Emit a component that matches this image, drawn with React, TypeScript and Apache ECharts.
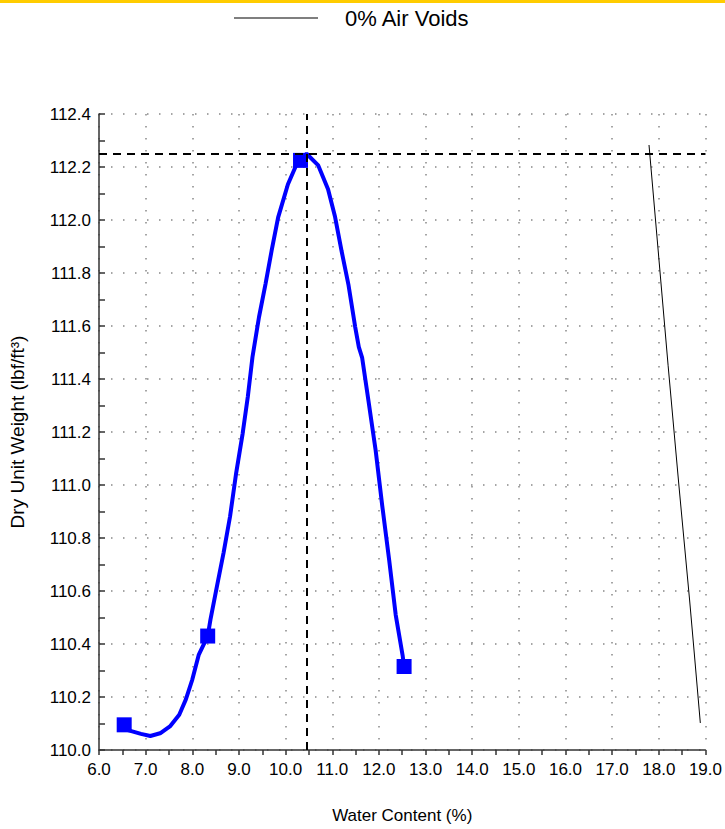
import React, { useEffect, useRef } from "react";
import * as echarts from "echarts";

// Test points (water content %, dry unit weight lbf/ft3)
const testWater = [6.54, 8.33, 10.32, 12.54];
const testDensity = [110.095, 110.43, 112.225, 110.315];

// Fitted compaction curve
const curveWater = [
  6.54, 6.6, 6.9, 7.1, 7.31, 7.52, 7.72, 7.86, 8.0, 8.14, 8.33, 8.39, 8.53, 8.67,
  8.81, 8.94, 9.08, 9.19, 9.29, 9.43, 9.57, 9.7, 9.84, 10.05, 10.26, 10.45, 10.7,
  10.91, 11.06, 11.2, 11.35, 11.49, 11.57, 11.64, 11.78, 11.93, 12.07, 12.22,
  12.36, 12.51, 12.54,
];
const curveDensity = [
  110.095, 110.076, 110.061, 110.053, 110.063, 110.089, 110.133, 110.19, 110.266,
  110.36, 110.43, 110.493, 110.619, 110.744, 110.882, 111.045, 111.195, 111.333,
  111.483, 111.634, 111.759, 111.884, 112.01, 112.135, 112.22, 112.25, 112.206,
  112.116, 112.012, 111.883, 111.753, 111.598, 111.52, 111.481, 111.313, 111.131,
  110.924, 110.717, 110.51, 110.355, 110.315,
];

// Zero air voids line
const zavWater = [17.79, 17.98, 18.2, 18.43, 18.66, 18.76, 18.89];
const zavDensity = [112.283, 111.898, 111.45, 111.0, 110.566, 110.366, 110.102];

// Optimum
const optimumWater = 10.45;
const maxDryDensity = 112.25;

const xTitle = "Water Content (%)";
const yTitle = "Dry Unit Weight (lbf/ft³)";
const zavName = "0% Air Voids";

const FONT = "'Liberation Sans', Arial, sans-serif";

export default function App() {
  const ref = useRef<HTMLDivElement>(null);
  useEffect(() => {
    if (!ref.current) return;
    const chart = echarts.init(ref.current, undefined, { renderer: "svg" });
    const zip = (a: number[], b: number[]) => a.map((v, i) => [v, b[i]]);
    const gridLine = { show: true, lineStyle: { color: "#888", width: 1.5, type: [1.5, 10.5] as any } };
    chart.setOption({
      animation: false,
      textStyle: { fontFamily: FONT },
      graphic: [
        { type: "rect", shape: { x: 0, y: 0, width: 725, height: 3 }, style: { fill: "#FFCC00" }, silent: true },
      ],
      legend: {
        data: [zavName],
        left: 229,
        top: 2,
        itemWidth: 84,
        itemHeight: 1,
        icon: "rect",
        textStyle: { fontSize: 22, color: "#000", fontFamily: FONT, padding: [0, 0, 0, 22] },
      },
      grid: { left: 98, right: 16, top: 114, bottom: 79, containLabel: false },
      xAxis: {
        type: "value",
        min: 6,
        max: 19,
        interval: 1,
        name: xTitle,
        nameLocation: "middle",
        nameGap: 57,
        nameTextStyle: { fontSize: 17, color: "#000", fontFamily: FONT },
        axisLine: { show: true, lineStyle: { color: "#333", width: 1.5 } },
        axisTick: { show: true, inside: false, length: 5, lineStyle: { color: "#333", width: 1.5 } },
        minorTick: { show: true, splitNumber: 2, length: 5, lineStyle: { color: "#333", width: 1.5 } },
        axisLabel: { fontSize: 17, color: "#000", margin: 11, formatter: (v: number) => v.toFixed(1) },
        splitLine: gridLine,
      },
      yAxis: {
        type: "value",
        min: 110,
        max: 112.4,
        interval: 0.2,
        name: yTitle,
        nameLocation: "middle",
        nameGap: 72,
        nameTextStyle: { fontSize: 19, color: "#000", fontFamily: FONT },
        axisLine: { show: true, lineStyle: { color: "#333", width: 1.5 } },
        axisTick: { show: true, inside: true, length: 6, lineStyle: { color: "#333", width: 1.5 } },
        minorTick: { show: true, splitNumber: 2, length: 6, lineStyle: { color: "#333", width: 1.5 } },
        axisLabel: { fontSize: 17, color: "#000", margin: 8, formatter: (v: number) => v.toFixed(1) },
        splitLine: gridLine,
      },
      series: [
        {
          name: "Curve",
          type: "line",
          data: zip(curveWater, curveDensity),
          showSymbol: false,
          symbol: "none",
          smooth: false,
          lineStyle: { color: "#0000FF", width: 4 },
          z: 3,
          markLine: {
            silent: true,
            symbol: "none",
            label: { show: false },
            lineStyle: { color: "#000", width: 2, type: [8, 6] as any },
            data: [{ xAxis: optimumWater }, { yAxis: maxDryDensity }],
          },
        },
        {
          name: "Tests",
          type: "scatter",
          data: zip(testWater, testDensity),
          symbol: "rect",
          symbolSize: 15,
          itemStyle: { color: "#0000FF", opacity: 1 },
          z: 4,
        },
        {
          name: zavName,
          type: "line",
          data: zip(zavWater, zavDensity),
          showSymbol: false,
          symbol: "none",
          lineStyle: { color: "#000", width: 1 },
          itemStyle: { color: "#000" },
          z: 2,
        },
      ],
    });
    return () => chart.dispose();
  }, []);
  return (
    <div
      ref={ref}
      style={{ position: "fixed", left: 0, top: 0, width: 725, height: 829, background: "#fff" }}
    />
  );
}
